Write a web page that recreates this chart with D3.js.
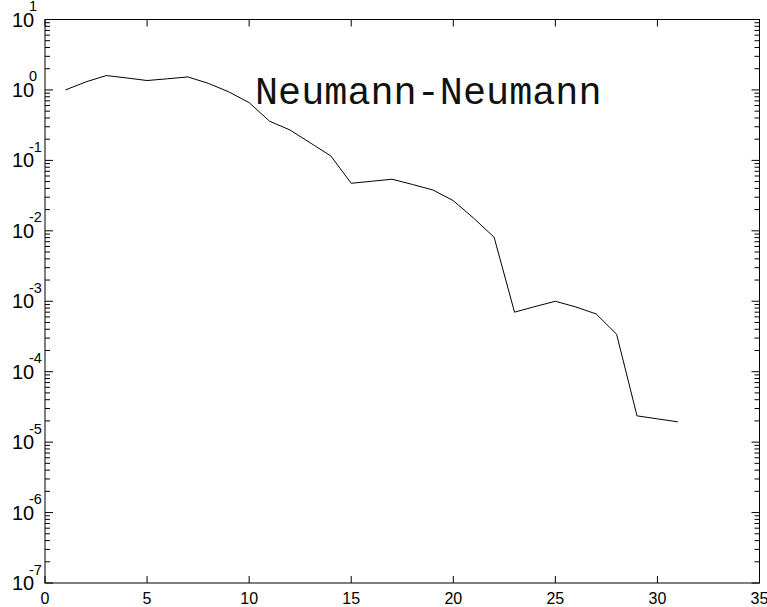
<!DOCTYPE html>
<html>
<head>
<meta charset="utf-8">
<script src="https://cdn.jsdelivr.net/npm/d3@7"></script>
<style>
  body { margin: 0; background: #fff; }
  svg { display: block; }
</style>
</head>
<body>
<svg width="767" height="607"></svg>
<script>
// iteration number vs. error
var iterations = [1, 2, 3, 4, 5, 6, 7, 8, 9, 10, 11, 12, 13, 14, 15, 16,
                  17, 18, 19, 20, 21, 22, 23, 24, 25, 26, 27, 28, 29, 30, 31];
var errors = [1.0, 1.3, 1.6, 1.48, 1.36, 1.44, 1.53, 1.24, 0.94, 0.66, 0.36, 0.27,
              0.177, 0.1155, 0.0473, 0.0505, 0.054, 0.0455, 0.038, 0.0268, 0.0151,
              0.0081, 7.0e-4, 8.4e-4, 1.0e-3, 8.3e-4, 6.6e-4, 3.4e-4, 2.36e-5,
              2.14e-5, 1.94e-5];
var xTicks = [0, 5, 10, 15, 20, 25, 30, 35];
var yExponents = [1, 0, -1, -2, -3, -4, -5, -6, -7];
var label = "Neumann-Neumann";

var svg = d3.select("svg");
// note: "top" is taken by window.top, so use other names
var pLeft = 45, pTop = 19.5, pRight = 759.5, pBottom = 583;

var x = d3.scaleLinear().domain([0, 35]).range([pLeft, pRight]);
var y = d3.scaleLog().domain([1e-7, 10]).range([pBottom, pTop]);

// minor ticks for the log axis
var minor = [];
for (var k = -7; k < 1; k++) {
  for (var m = 2; m <= 9; m++) minor.push(m * Math.pow(10, k));
}

var g = svg.append("g").attr("stroke", "#000").attr("stroke-width", 1);

// x major ticks, bottom and top, pointing inward
xTicks.forEach(function(t) {
  g.append("line").attr("x1", x(t)).attr("x2", x(t)).attr("y1", pBottom).attr("y2", pBottom - 7);
  g.append("line").attr("x1", x(t)).attr("x2", x(t)).attr("y1", pTop).attr("y2", pTop + 7);
});

// y ticks, left and right
yExponents.forEach(function(e) {
  var yy = y(Math.pow(10, e));
  g.append("line").attr("x1", pLeft).attr("x2", pLeft + 8).attr("y1", yy).attr("y2", yy);
  g.append("line").attr("x1", pRight).attr("x2", pRight - 8).attr("y1", yy).attr("y2", yy);
});
minor.forEach(function(v) {
  var yy = y(v);
  g.append("line").attr("x1", pLeft).attr("x2", pLeft + 5).attr("y1", yy).attr("y2", yy);
  g.append("line").attr("x1", pRight).attr("x2", pRight - 5).attr("y1", yy).attr("y2", yy);
});

// box
g.append("rect")
  .attr("x", pLeft).attr("y", pTop)
  .attr("width", pRight - pLeft).attr("height", pBottom - pTop)
  .attr("fill", "none");

// x labels
svg.append("g").selectAll("text")
  .data(xTicks)
  .enter().append("text")
    .attr("x", function(d) { return x(d); })
    .attr("y", 604)
    .attr("text-anchor", "middle")
    .attr("font-family", "Liberation Sans, Arial, sans-serif")
    .attr("font-size", 16)
    .text(function(d) { return d; });

// y labels: 10 with superscript exponent
var yl = svg.append("g").attr("font-family", "Liberation Sans, Arial, sans-serif");
yExponents.forEach(function(e) {
  var yy = y(Math.pow(10, e));
  yl.append("text")
    .attr("x", 12).attr("y", yy + 7)
    .attr("font-size", 20)
    .text("10");
  yl.append("text")
    .attr("x", 29).attr("y", yy - 8.5)
    .attr("font-size", 14.5)
    .text(e);
});

// the curve
var line = d3.line()
  .x(function(d, i) { return x(iterations[i]); })
  .y(function(d) { return y(d); });

svg.append("path")
  .datum(errors)
  .attr("fill", "none")
  .attr("stroke", "#000")
  .attr("stroke-width", 1)
  .attr("d", line);

svg.append("text")
  .attr("x", 255).attr("y", 104)
  .attr("font-family", "Courier New, Liberation Mono, monospace")
  .attr("font-size", 38.5)
  .attr("fill", "#111")
  .text(label);
</script>
</body>
</html>
